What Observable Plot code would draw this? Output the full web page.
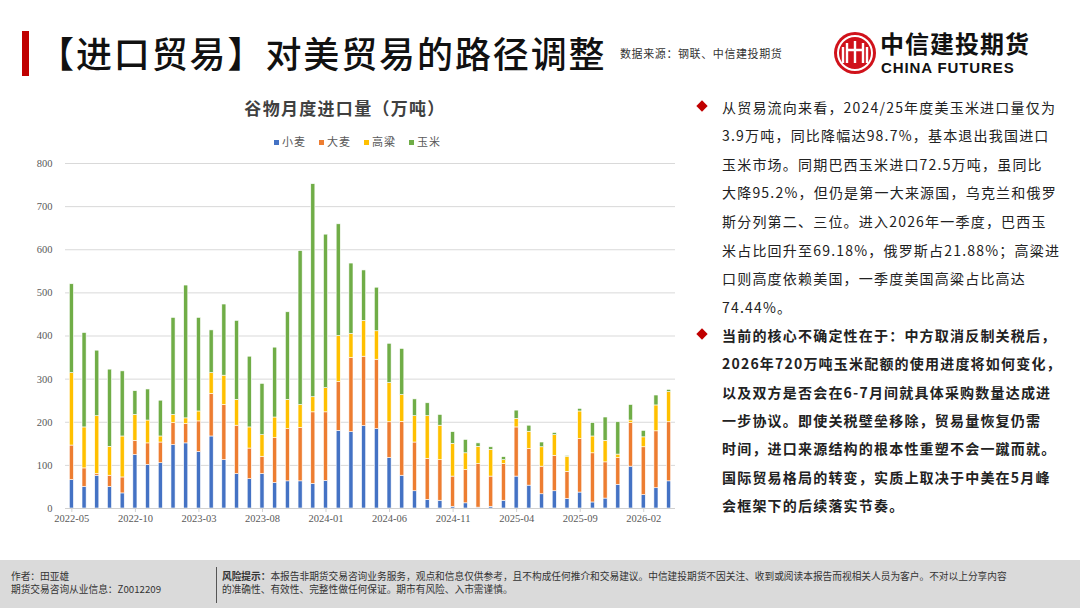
<!DOCTYPE html>
<html><head><meta charset="utf-8">
<script src="https://cdn.jsdelivr.net/npm/d3@7"></script>
<script src="https://cdn.jsdelivr.net/npm/@observablehq/plot@0.6"></script>
<style>
body{margin:0;width:1080px;height:608px;position:relative;background:#fff;font-family:"Noto Sans CJK SC",sans-serif;overflow:hidden}
.abs{position:absolute;white-space:nowrap}
.ln{position:absolute;left:722px;font-size:14px;letter-spacing:1.2px;color:#222;line-height:16px;white-space:nowrap}
.dm{position:absolute;left:698px;width:8px;height:8px;background:#c00000;transform:rotate(45deg)}
.lg{position:absolute;top:133px;font-size:11px;color:#595959;letter-spacing:1px}
.lg i{display:inline-block;width:5px;height:5px;margin-right:3px;vertical-align:middle;position:relative;top:-1px}
</style></head><body>
<script>
// ---- data ----
const months = ["2022-05","2022-06","2022-07","2022-08","2022-09","2022-10","2022-11","2022-12",
"2023-01","2023-02","2023-03","2023-04","2023-05","2023-06","2023-07","2023-08","2023-09","2023-10","2023-11","2023-12",
"2024-01","2024-02","2024-03","2024-04","2024-05","2024-06","2024-07","2024-08","2024-09","2024-10","2024-11","2024-12",
"2025-01","2025-02","2025-03","2025-04","2025-05","2025-06","2025-07","2025-08","2025-09","2025-10","2025-11","2025-12",
"2026-01","2026-02","2026-03","2026-04"];
const xTicks = ["2022-05","2022-10","2023-03","2023-08","2024-01","2024-06","2024-11","2025-04","2025-09","2026-02"];
const series = ["小麦","大麦","高粱","玉米"];
const colors = ["#4472C4","#ED7D31","#FFC000","#70AD47"];
const wheat   = [66,50,76,50,35,124,101,105,147,151,131,167,112,80,68,80,59,63,63,57,64,180,177,191,184,117,76,40,20,18,4,12,2,4,18,74,53,33,40,22,37,14,23,55,97,31,47,63];
const barley  = [80,43,4,26,37,33,50,48,51,45,71,99,128,112,71,40,104,121,124,166,159,113,172,161,161,83,125,113,95,94,70,77,101,70,85,114,85,64,82,63,124,114,84,62,101,111,132,137];
const sorghum = [168,95,134,67,95,60,53,14,19,13,23,48,68,60,49,50,48,68,53,35,56,107,56,83,66,91,62,61,99,80,76,39,40,62,9,20,40,45,48,35,64,39,50,8,6,23,60,70];
const corn    = [206,219,152,179,151,55,72,83,225,308,217,99,165,183,164,119,162,203,357,494,356,259,163,117,101,91,107,39,30,25,27,31,8,6,7,19,14,11,5,2,6,31,54,75,36,15,23,5];
const yTicks = [0,100,200,300,400,500,600,700,800];

const rows = [];
const vals = [wheat, barley, sorghum, corn];
months.forEach((m,i)=>series.forEach((s,j)=>rows.push({month:m, series:s, value:vals[j][i]})));

// ---- page chrome ----
document.body.insertAdjacentHTML("beforeend", `
<div class="abs" style="left:22px;top:31px;width:7px;height:45px;background:#c00000"></div>
<div class="abs" style="left:38px;top:27px;font-size:36px;letter-spacing:1.9px;font-weight:500;color:#111;line-height:50px">【进口贸易】对美贸易的路径调整</div>
<div class="abs" style="left:620px;top:45px;font-size:11px;letter-spacing:0.6px;color:#333">数据来源：钢联、中信建投期货</div>
<svg class="abs" style="left:832px;top:30px" width="46" height="46" viewBox="0 0 46 46">
 <circle cx="23" cy="23" r="21" fill="#d0121b"/>
 <circle cx="23" cy="23" r="17" fill="none" stroke="#fff" stroke-width="2"/>
 <path d="M11 33V17 M15 33V13 M23 33V11 M31 33V13 M35 33V17 M15 20H31" stroke="#fff" stroke-width="2.4" fill="none"/>
</svg>
<div class="abs" style="left:880px;top:29px;font-size:24px;font-weight:700;color:#111;line-height:28px;letter-spacing:1px">中信建投期货</div>
<div class="abs" style="left:881px;top:60px;font-family:'Liberation Sans',sans-serif;font-size:15px;font-weight:700;color:#111;letter-spacing:0.9px;line-height:15px">CHINA FUTURES</div>
<div class="abs" style="left:0;width:690px;top:96px;text-align:center;font-size:17px;font-weight:700;color:#404040;letter-spacing:1.3px;line-height:24px">谷物月度进口量（万吨）</div>
<div class="dm" style="top:102px"></div>
<div class="dm" style="top:330px"></div>
<div class="abs" style="left:0;top:560px;width:1080px;height:48px;background:#dadada"></div>
<div class="abs" style="left:80px;top:557px;width:128px;height:3px;background:#fff"></div>
<div class="abs" style="left:11px;top:570px;font-size:9.7px;color:#333;line-height:13px">作者：田亚雄<br>期货交易咨询从业信息：Z0012209</div>
<div class="abs" style="left:216px;top:567px;width:1px;height:36px;background:#555"></div>
<div class="abs" style="left:222px;top:570px;font-size:9.7px;color:#333;line-height:13px"><b>风险提示：</b>本报告非期货交易咨询业务服务，观点和信息仅供参考，且不构成任何推介和交易建议。中信建投期货不因关注、收到或阅读本报告而视相关人员为客户。不对以上分享内容<br>的准确性、有效性、完整性做任何保证。期市有风险、入市需谨慎。</div>
`);
const p1 = ["从贸易流向来看，2024/25年度美玉米进口量仅为","3.9万吨，同比降幅达98.7%，基本退出我国进口","玉米市场。同期巴西玉米进口72.5万吨，虽同比","大降95.2%，但仍是第一大来源国，乌克兰和俄罗","斯分列第二、三位。进入2026年一季度，巴西玉","米占比回升至69.18%，俄罗斯占21.88%；高粱进","口则高度依赖美国，一季度美国高粱占比高达","74.44%。"];
const p2 = ["当前的核心不确定性在于：中方取消反制关税后，","2026年720万吨玉米配额的使用进度将如何变化，","以及双方是否会在6-7月间就具体采购数量达成进","一步协议。即使关税壁垒移除，贸易量恢复仍需","时间，进口来源结构的根本性重塑不会一蹴而就。","国际贸易格局的转变，实质上取决于中美在5月峰","会框架下的后续落实节奏。"];
p1.forEach((t,i)=>document.body.insertAdjacentHTML("beforeend",`<div class="ln" style="top:${98.5+i*28.6}px">${t}</div>`));
p2.forEach((t,i)=>document.body.insertAdjacentHTML("beforeend",`<div class="ln" style="top:${327+i*28.3}px;font-weight:700">${t}</div>`));
series.forEach((s,i)=>document.body.insertAdjacentHTML("beforeend",`<div class="lg" style="left:${274+i*45}px"><i style="background:${colors[i]}"></i>${s}</div>`));

// ---- chart ----
const chart = Plot.plot({
  width: 690, height: 385,
  marginLeft: 65, marginRight: 15, marginTop: 13, marginBottom: 27,
  style: {fontFamily: "'Liberation Serif', serif", fontSize: "10.5px", color: "#595959", background: "transparent"},
  x: {type: "band", domain: months, padding: 0},
  y: {domain: [0, 800]},
  color: {domain: series, range: colors},
  marks: [
    Plot.gridY(yTicks, {stroke: "#d9d9d9", strokeOpacity: 1}),
    Plot.barY(rows, {x: "month", y: "value", fill: "series", order: series, insetLeft: 4.3, insetRight: 4.3, stroke: "white", strokeWidth: 0.6}),
    Plot.ruleY([0], {stroke: "#d0d0d0"}),
    Plot.axisX({ticks: xTicks, tickSize: 4, stroke: "#d0d0d0", tickPadding: 2, label: null}),
    Plot.axisY({ticks: yTicks, tickSize: 0, tickPadding: 13, label: null})
  ]
});
chart.style.position = "absolute";
chart.style.left = "0px";
chart.style.top = "150px";
document.body.appendChild(chart);
</script>
</body></html>
